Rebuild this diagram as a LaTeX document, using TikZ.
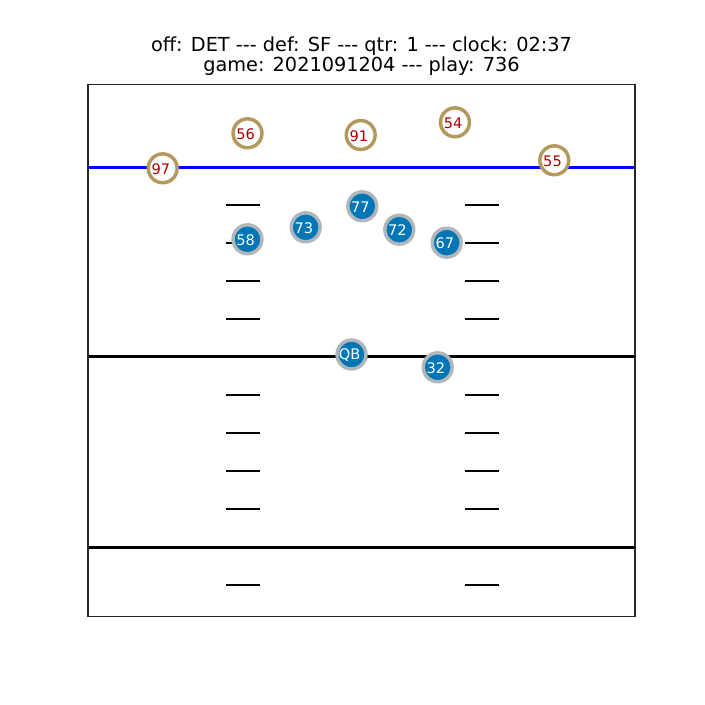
\documentclass[tikz,border=0pt]{standalone}
\usepackage{fontspec}
\setmainfont{DejaVu Sans}[Ligatures=TeXOff]
\definecolor{detblue}{HTML}{0076B6}
\definecolor{detsilver}{HTML}{B0B7BC}
\definecolor{sfgold}{HTML}{B3995D}
\definecolor{sfred}{HTML}{AA0000}
\begin{document}
\begin{tikzpicture}[x=0.72pt,y=-0.72pt,
  playerlabel/.style={font=\fontsize{10.5}{12}\selectfont,inner sep=0pt,xshift=-1.3pt,yshift=-0.6pt},
  defp/.style={circle,draw=sfgold,fill=white,line width=2.5pt,minimum size=20.8pt,inner sep=0pt,
    label={[playerlabel,text=sfred]center:#1}},
  offp/.style={circle,draw=detsilver,fill=detblue,line width=2.5pt,minimum size=20.8pt,inner sep=0pt,
    label={[playerlabel,text=white]center:#1}},
  hashmark/.style={line width=1.5pt,black},
  fieldline/.style={line width=2pt,black},
  titletext/.style={anchor=base,font=\fontsize{13.9}{16}\selectfont}]
\useasboundingbox (0,0) rectangle (705,705);
\fill[white] (0,0) rectangle (705,705);
% title
\node[titletext] (t1) at (361.5,51.5) {off: DET --- def: SF --- qtr: 1 --- clock: 02:37};
\node[titletext] (t2) at (361.5,71.5) {game: 2021091204 --- play: 736};
% hash marks
\foreach \yy in {205.3,243.3,281.3,319.3,395.3,433.3,471.3,509.3,585.3}{
  \draw[hashmark] (225.5,\yy) -- (259.5,\yy);
  \draw[hashmark] (464.5,\yy) -- (498.5,\yy);
}
% field lines
\draw[fieldline] (88,356.8) -- (635,356.8);
\draw[fieldline] (88,547.3) -- (635,547.3);
\draw[line width=2.1pt,blue] (88,167.5) -- (635,167.5);
% frame
\draw[line width=0.8pt,black!85] (88,84.5) rectangle (635,616.7);
% defense
\node[defp=97] (p97) at (162.7,168.3) {};
\node[defp=56] (p56) at (247.5,133.3) {};
\node[defp=91] (p91) at (360.7,135) {};
\node[defp=54] (p54) at (455,122.3) {};
\node[defp=55] (p55) at (554.3,160.3) {};
% offense
\node[offp=58] (p58) at (247.5,239.3) {};
\node[offp=73] (p73) at (305.7,227.3) {};
\node[offp=77] (p77) at (362.3,206.3) {};
\node[offp=72] (p72) at (399.3,229.7) {};
\node[offp=67] (p67) at (446.7,242.7) {};
\node[offp=QB] (pqb) at (351.5,354.5) {};
\node[offp=32] (p32) at (437.7,367.3) {};
\end{tikzpicture}
\end{document}
